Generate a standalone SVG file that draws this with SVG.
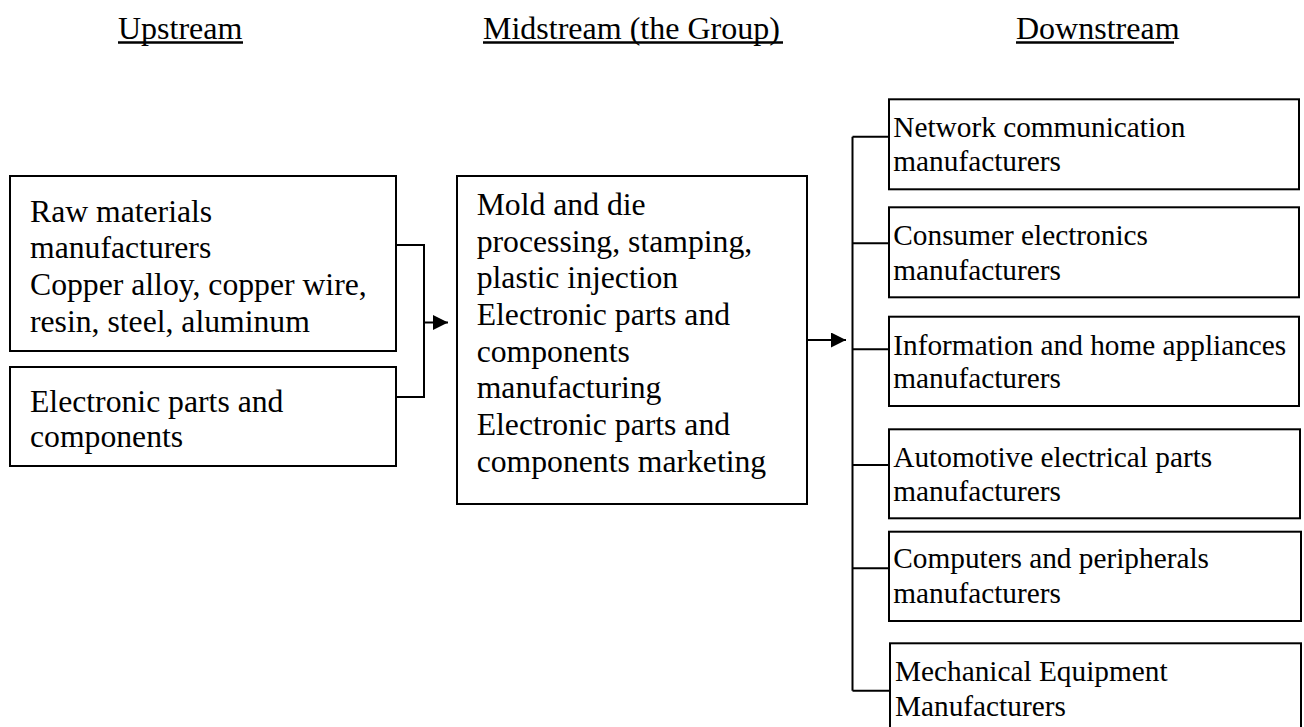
<svg xmlns="http://www.w3.org/2000/svg" width="1304" height="727" viewBox="0 0 1304 727">
  <style>
    .box { fill: #ffffff; stroke: #000000; stroke-width: 2; }
    .line { fill: none; stroke: #000000; stroke-width: 2; }
    .ul { stroke: #000000; stroke-width: 2.6; }
    .hdr { font-family: "Liberation Serif", "Times New Roman", serif; font-size: 32px; fill: #000000; }
    .big { font-family: "Liberation Serif", "Times New Roman", serif; font-size: 31.7px; fill: #000000; }
    .small { font-family: "Liberation Serif", "Times New Roman", serif; font-size: 29.3px; fill: #000000; }
  </style>
  <defs>
    <marker id="arrow" viewBox="0 0 10 10" refX="10" refY="5" markerWidth="7.5" markerHeight="7.5" markerUnits="strokeWidth" orient="auto">
      <path d="M0,0 L10,5 L0,10 Z" fill="#000000"/>
    </marker>
  </defs>
  <rect width="1304" height="727" fill="#ffffff"/>

  <g id="headers">
    <text class="hdr" x="118" y="38.5">Upstream</text>
    <line class="ul" x1="118" y1="42.5" x2="243" y2="42.5"/>
    <text class="hdr" x="483" y="38.5">Midstream (the Group)</text>
    <line class="ul" x1="483" y1="42.5" x2="783" y2="42.5"/>
    <text class="hdr" x="1016" y="38.5">Downstream</text>
    <line class="ul" x1="1016" y1="42.5" x2="1174" y2="42.5"/>
  </g>

  <g id="connectors">
    <path class="line" d="M396,245 H424 V397 H396"/>
    <path class="line" d="M424,322.5 H448" marker-end="url(#arrow)"/>
    <path class="line" d="M807,340 H846" marker-end="url(#arrow)"/>
    <path class="line" d="M852.5,136.7 V690.7"/>
    <path class="line" d="M852.5,136.7 H889"/>
    <path class="line" d="M852.5,243.3 H889"/>
    <path class="line" d="M852.5,349.3 H889"/>
    <path class="line" d="M852.5,465 H889"/>
    <path class="line" d="M852.5,568.3 H889"/>
    <path class="line" d="M852.5,690.7 H890"/>
  </g>

  <g id="up-raw">
    <rect class="box" x="10" y="176" width="386" height="175"/>
    <text class="big">
      <tspan x="30" y="221.7">Raw materials</tspan>
      <tspan x="30" y="258.3">manufacturers</tspan>
      <tspan x="30" y="295">Copper alloy, copper wire,</tspan>
      <tspan x="30" y="331.7">resin, steel, aluminum</tspan>
    </text>
  </g>

  <g id="up-elec">
    <rect class="box" x="10" y="367" width="386" height="99"/>
    <text class="big">
      <tspan x="30" y="411.7">Electronic parts and</tspan>
      <tspan x="30" y="447">components</tspan>
    </text>
  </g>

  <g id="mid">
    <rect class="box" x="457" y="176" width="350" height="328"/>
    <text class="big">
      <tspan x="476.7" y="215">Mold and die</tspan>
      <tspan x="476.7" y="251.7">processing, stamping,</tspan>
      <tspan x="476.7" y="288.3">plastic injection</tspan>
      <tspan x="476.7" y="325">Electronic parts and</tspan>
      <tspan x="476.7" y="361.7">components</tspan>
      <tspan x="476.7" y="398.3">manufacturing</tspan>
      <tspan x="476.7" y="435">Electronic parts and</tspan>
      <tspan x="476.7" y="471.7">components marketing</tspan>
    </text>
  </g>

  <g id="down-network">
    <rect class="box" x="889" y="99.3" width="410" height="90"/>
    <text class="small">
      <tspan x="893.3" y="137">Network communication</tspan>
      <tspan x="893.3" y="171">manufacturers</tspan>
    </text>
  </g>

  <g id="down-consumer">
    <rect class="box" x="889" y="207.3" width="410" height="90"/>
    <text class="small">
      <tspan x="893.3" y="245">Consumer electronics</tspan>
      <tspan x="893.3" y="280">manufacturers</tspan>
    </text>
  </g>

  <g id="down-info">
    <rect class="box" x="889" y="316.7" width="410" height="89.3"/>
    <text class="small">
      <tspan x="893.3" y="355">Information and home appliances</tspan>
      <tspan x="893.3" y="388.3">manufacturers</tspan>
    </text>
  </g>

  <g id="down-auto">
    <rect class="box" x="889" y="429.3" width="411" height="89"/>
    <text class="small">
      <tspan x="893.3" y="466.7">Automotive electrical parts</tspan>
      <tspan x="893.3" y="501">manufacturers</tspan>
    </text>
  </g>

  <g id="down-computers">
    <rect class="box" x="889" y="531.7" width="412" height="89.3"/>
    <text class="small">
      <tspan x="893.3" y="568.3">Computers and peripherals</tspan>
      <tspan x="893.3" y="603.3">manufacturers</tspan>
    </text>
  </g>

  <g id="down-mechanical">
    <rect class="box" x="890" y="643.3" width="411" height="100"/>
    <text class="small">
      <tspan x="895" y="681">Mechanical Equipment</tspan>
      <tspan x="895" y="715.5">Manufacturers</tspan>
    </text>
  </g>
</svg>
